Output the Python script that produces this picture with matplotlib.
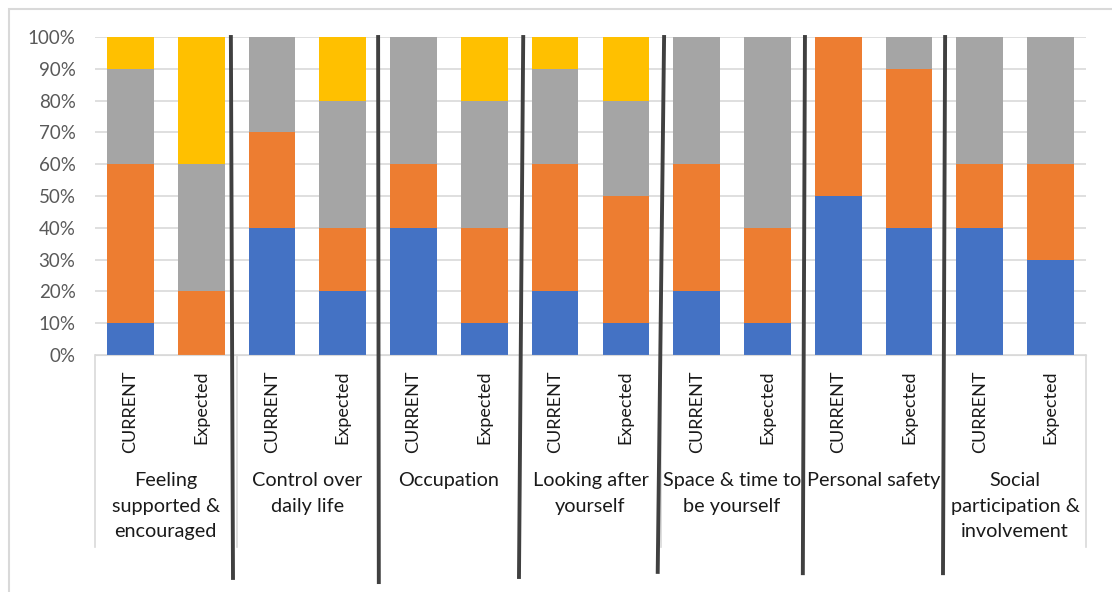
import numpy as np
import matplotlib.pyplot as plt
from matplotlib.patches import Rectangle
import matplotlib.transforms as mtransforms

plt.rcParams['font.family'] = ['Lato', 'DejaVu Sans']

groups = ["Feeling\nsupported &\nencouraged", "Control over\ndaily life", "Occupation",
          "Looking after\nyourself", "Space & time to\nbe yourself", "Personal safety",
          "Social\nparticipation &\ninvolvement"]
bar_labels = ["CURRENT", "Expected"] * 7

# percentages per bar (CURRENT, Expected for each group)
blue = [10, 0, 40, 20, 40, 10, 20, 10, 20, 10, 50, 40, 40, 30]
orange = [50, 20, 30, 20, 20, 30, 40, 40, 40, 30, 50, 50, 20, 30]
grey = [30, 40, 30, 40, 40, 40, 30, 30, 40, 60, 0, 10, 40, 40]
yellow = [10, 40, 0, 20, 0, 20, 10, 20, 0, 0, 0, 0, 0, 0]

colors = ["#4472C4", "#ED7D31", "#A5A5A5", "#FFC000"]

fig = plt.figure(figsize=(11.12, 5.92), dpi=100)
ax = fig.add_axes([0.0854, 0.4003, 0.8912, 0.5372])

x = np.arange(len(bar_labels))
bottom = np.zeros(len(x))
for vals, c in zip([blue, orange, grey, yellow], colors):
    v = np.array(vals, dtype=float)
    ax.bar(x, v, 0.66, bottom=bottom, color=c, zorder=2)
    bottom += v

ax.set_xlim(-0.5, len(x) - 0.5)
ax.set_ylim(0, 100)
ax.set_yticks(np.arange(0, 101, 10))
ax.set_yticklabels([f"{t}%" for t in range(0, 101, 10)], fontsize=13.5, color="#595959")
ax.yaxis.grid(True, color="#D9D9D9", linewidth=1.2, zorder=0)
ax.tick_params(axis="y", length=0, pad=14)
for s in ["top", "right", "left"]:
    ax.spines[s].set_visible(False)
ax.spines["bottom"].set_color("#D9D9D9")

ax.set_xticks(x)
ax.set_xticklabels(bar_labels, rotation=90, fontsize=13, color="#1a1a1a", va="top")
ax.tick_params(axis="x", length=0, pad=11)

# light category dividers below the axis
trans = mtransforms.blended_transform_factory(ax.transData, ax.transAxes)
for b in np.arange(-0.5, len(x), 2):
    ax.plot([b, b], [0, -0.604], color="#D9D9D9", lw=1.2, transform=trans, clip_on=False)

# group labels
for i, g in enumerate(groups):
    ax.text(2 * i + 0.5, -0.368, g, transform=trans, ha="center", va="top",
            fontsize=14.3, color="#1a1a1a", linespacing=1.62)

# hand-drawn black separators
sep_top = [-0.08, 0.0, 0.05, 0.04, 0.03, 0.01]
sep_bot = [-0.05, 0.01, -0.01, -0.05, 0.0, -0.02]
sep_end = [-0.701, -0.714, -0.698, -0.682, -0.686, -0.686]
for k in range(6):
    b = 2 * k + 1.5
    ax.plot([b + sep_top[k], b + sep_bot[k]], [1.0, sep_end[k]], color="#404040",
            lw=2.8, transform=trans, clip_on=False, zorder=5)

# chart area frame
fig.patches.append(Rectangle((9 / 1112, -0.1), 1.2, 1.1 - 9 / 592, transform=fig.transFigure,
                             fill=False, edgecolor="#D9D9D9", lw=1.5))

fig.savefig("out.png", dpi=100)
